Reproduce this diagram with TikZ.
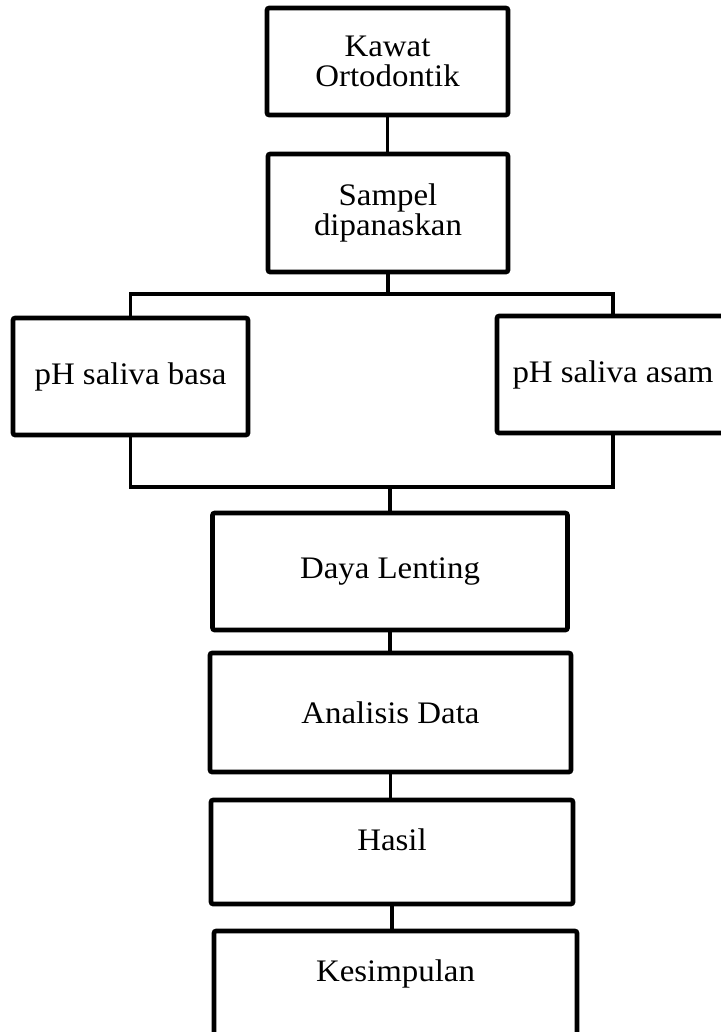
\documentclass[tikz,border=0pt]{standalone}
\usepackage{fontspec}
\setmainfont[FakeStretch=1.05]{Liberation Serif}
\usepackage{tikz}
\usetikzlibrary{positioning}
\usetikzlibrary{calc}

\begin{document}
\begin{tikzpicture}[x=0.75pt, y=-0.75pt,
             stage/.style={draw, line width=3.4pt, fill=white, align=center,
                rounded corners=1.5pt, font=\fontsize{23.5}{22.5}\selectfont},
             link/.style={draw, line width=2.9pt, line cap=rect},
          ]
          \useasboundingbox (0,0) rectangle (721,1032);

          \node at (387.5,61.5) (kawat) [stage, minimum width=180.75pt, minimum height=80.25pt] {Kawat\\Ortodontik};
          \node at (388,213) (sampel) [stage, minimum width=180pt, minimum height=88.5pt] {Sampel\\dipanaskan};
          \node at (130.5,376.5) (basa) [stage, minimum width=176.25pt, minimum height=87.75pt] {pH saliva basa};
          \node at (613,374.5) (asam) [stage, minimum width=174pt, minimum height=87.75pt] {pH saliva asam};
          \node at (390,571.5) (lenting) [stage, minimum width=266.25pt, minimum height=87.75pt] {Daya Lenting};
          \node at (390.5,712.5) (analisis) [stage, minimum width=270.75pt, minimum height=89.25pt] {Analisis Data};
          \node at (392,852) (hasil) [stage, minimum width=271.5pt, minimum height=78pt, text depth=18pt] {Hasil};
          \node at (395.5,989.5) (simpulan) [stage, minimum width=272.25pt, minimum height=87.75pt, text depth=28pt] {Kesimpulan};

          \coordinate (split) at (388,294);
          \coordinate (join) at (390,487);

          \draw[link] (kawat.south) -- (kawat.south |- sampel.north);
          \draw[link] (sampel.south) -- (split);
          \draw[link] (split) -| (basa.north);
          \draw[link] (split) -| (asam.north);
          \draw[link] (basa.south) |- (join);
          \draw[link] (asam.south) |- (join);
          \draw[link] (join) -- (lenting.north);
          \draw[link] (lenting.south) -- (lenting.south |- analisis.north);
          \draw[link] (analisis.south) -- (analisis.south |- hasil.north);
          \draw[link] (hasil.south) -- (hasil.south |- simpulan.north);

\end{tikzpicture}
\end{document}
